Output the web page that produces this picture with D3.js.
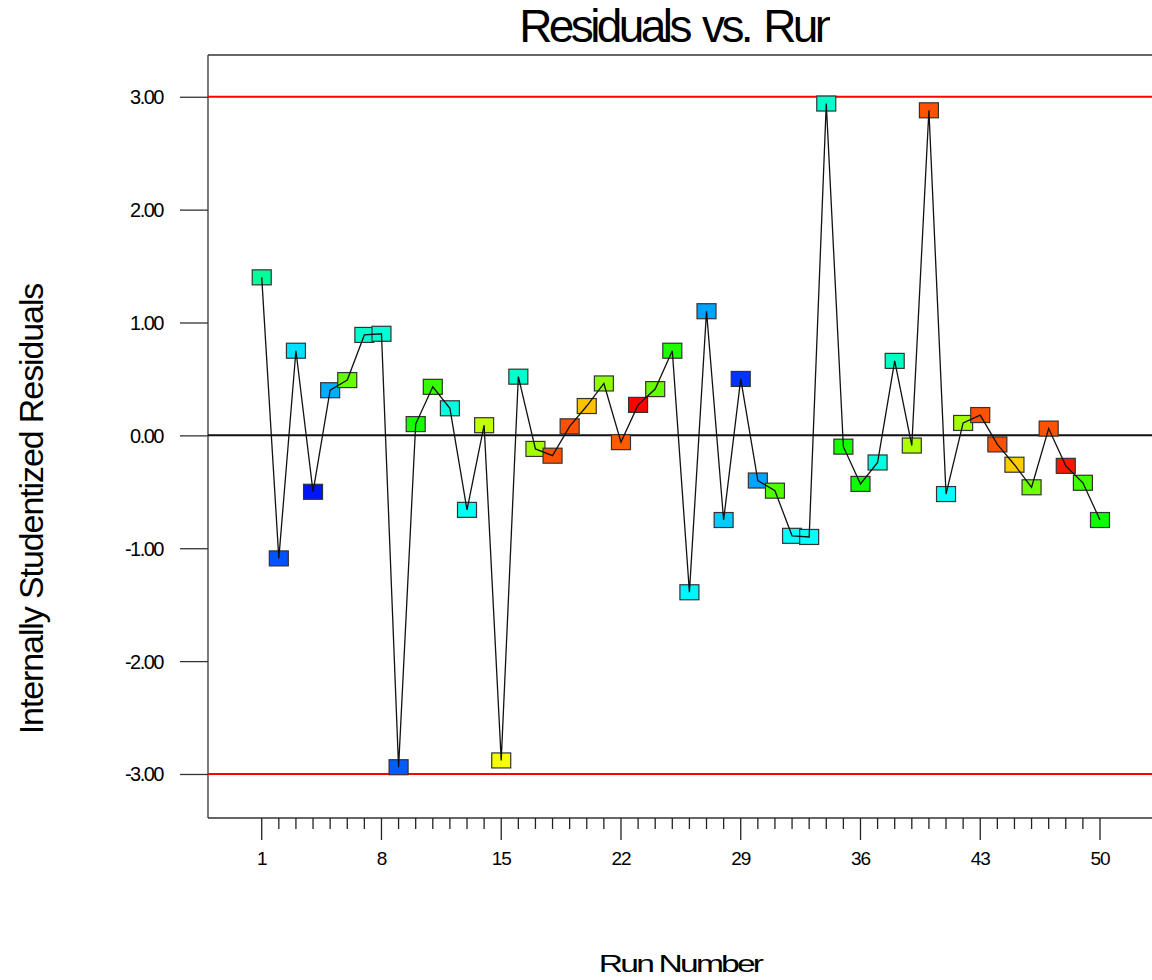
<!DOCTYPE html>
<html>
<head>
<meta charset="utf-8">
<script src="https://cdn.jsdelivr.net/npm/d3@7"></script>
<style>
	body { margin: 0; background: #fff; }
	text { font-family: 'Liberation Sans', Arial, sans-serif; fill: #000; }
</style>
</head>
<body>
<div id="chart"></div>
<script>
// run numbers and internally studentized residuals
const runs = d3.range(1, 51);
const residuals = [
	1.40, -1.09, 0.75, -0.50, 0.40, 0.49, 0.89, 0.90, -2.94, 0.10,
	0.43, 0.24, -0.66, 0.09, -2.88, 0.52, -0.12, -0.18, 0.08, 0.26,
	0.46, -0.06, 0.27, 0.41, 0.75, -1.39, 1.10, -0.75, 0.50, -0.40,
	-0.49, -0.89, -0.90, 2.94, -0.10, -0.43, -0.24, 0.66, -0.09, 2.88,
	-0.52, 0.11, 0.18, -0.08, -0.26, -0.46, 0.06, -0.27, -0.42, -0.75
];
// third variable used for the point colour (0 = low, 1 = high)
const colorLevel = [
	0.35, 0.08, 0.22, 0.02, 0.17, 0.60, 0.30, 0.29, 0.09, 0.52,
	0.55, 0.28, 0.26, 0.69, 0.74, 0.30, 0.66, 0.92, 0.92, 0.81,
	0.64, 0.91, 1.00, 0.60, 0.53, 0.24, 0.16, 0.20, 0.05, 0.16,
	0.58, 0.25, 0.25, 0.30, 0.52, 0.51, 0.28, 0.31, 0.67, 0.92,
	0.25, 0.66, 0.92, 0.92, 0.80, 0.61, 0.92, 0.98, 0.56, 0.51
];
const yTicks = [-3, -2, -1, 0, 1, 2, 3];
const xLabelTicks = [1, 8, 15, 22, 29, 36, 43, 50];
const limits = [-3, 3];

const width = 1152, height = 980;
const plot = { left: 208, top: 55, right: 1152, bottom: 818 };

const svg = d3.select('#chart').append('svg')
	.attr('width', width)
	.attr('height', height);

const x = d3.scaleLinear().domain([-2.14, 53.04]).range([plot.left, plot.right]);
const y = d3.scaleLinear().domain([-3.39, 3.37]).range([plot.bottom, plot.top]);
const color = d3.scaleLinear()
	.domain([0, 0.25, 0.5, 0.75, 1])
	.range(['#0000ff', '#00ffff', '#00ff00', '#ffff00', '#ff0000']);

// title (the original image clips the last letter)
svg.append('clipPath').attr('id', 'titleClip')
	.append('rect').attr('x', 0).attr('y', 0).attr('width', 830).attr('height', 54);
svg.append('text')
	.attr('clip-path', 'url(#titleClip)')
	.attr('x', (plot.left + plot.right) / 2 - 2)
	.attr('y', 42)
	.attr('text-anchor', 'middle')
	.style('font-size', '46px')
	.style('letter-spacing', '-3.6px')
	.style('word-spacing', '4px')
	.text('Residuals vs. Run');

// frame
svg.append('line')
	.attr('x1', plot.left).attr('x2', plot.right)
	.attr('y1', plot.top).attr('y2', plot.top)
	.style('stroke', '#333').style('stroke-width', 1.3);

// y axis
const yAxis = d3.axisLeft(y).tickValues(yTicks).tickSize(28).tickPadding(17)
	.tickFormat((d) => d3.format('.2f')(d).replace('\u2212', '-'));
const gy = svg.append('g').attr('transform', 'translate(' + plot.left + ',0)').call(yAxis);
gy.select('.domain').remove();
gy.selectAll('.tick line').style('stroke', '#333').style('stroke-width', 1.3);
gy.selectAll('.tick text')
	.style('font-size', '20px')
	.style('letter-spacing', '-1.5px')
	.attr('dy', '0.35em');
svg.append('line')
	.attr('x1', plot.left).attr('x2', plot.left)
	.attr('y1', plot.top).attr('y2', plot.bottom)
	.style('stroke', '#333').style('stroke-width', 1.3);

// x axis: minor ticks every run, labelled ticks every 7 runs
const gx = svg.append('g').attr('transform', 'translate(0,' + plot.bottom + ')');
gx.append('line')
	.attr('x1', plot.left).attr('x2', plot.right)
	.style('stroke', '#333').style('stroke-width', 1.3);
gx.selectAll('.minor').data(runs).enter().append('line')
	.attr('class', 'minor')
	.attr('x1', (d) => x(d)).attr('x2', (d) => x(d))
	.attr('y1', 0)
	.attr('y2', (d) => (xLabelTicks.includes(d) ? 22 : 11))
	.style('stroke', '#222').style('stroke-width', 1.3);
gx.selectAll('.lbl').data(xLabelTicks).enter().append('text')
	.attr('class', 'lbl')
	.attr('x', (d) => x(d))
	.attr('y', 47)
	.attr('text-anchor', 'middle')
	.style('font-size', '19px')
	.style('letter-spacing', '-1px')
	.text((d) => d);

// reference lines
svg.selectAll('.limit').data(limits).enter().append('line')
	.attr('class', 'limit')
	.attr('x1', plot.left).attr('x2', plot.right)
	.attr('y1', (d) => y(d)).attr('y2', (d) => y(d))
	.style('stroke', '#ff0000').style('stroke-width', 2);
svg.append('line')
	.attr('x1', plot.left).attr('x2', plot.right)
	.attr('y1', y(0)).attr('y2', y(0))
	.style('stroke', '#111').style('stroke-width', 2);

const points = runs.map((r, i) => ({ run: r, res: residuals[i], c: colorLevel[i] }));

// square markers
svg.selectAll('.pt').data(points).enter().append('rect')
	.attr('class', 'pt')
	.attr('x', (d) => x(d.run) - 9.5)
	.attr('y', (d) => y(d.res) - 7.5)
	.attr('width', 19)
	.attr('height', 15)
	.style('fill', (d) => color(d.c))
	.style('stroke', '#333')
	.style('stroke-width', 1.2);

// connecting line is drawn over the markers in the original
svg.append('path')
	.datum(points)
	.attr('d', d3.line().x((d) => x(d.run)).y((d) => y(d.res)))
	.style('fill', 'none')
	.style('stroke', '#111')
	.style('stroke-width', 1.3);

// axis titles
svg.append('text')
	.attr('transform', 'translate(680,972) scale(1.4,1)')
	.attr('text-anchor', 'middle')
	.style('font-size', '24px')
	.style('letter-spacing', '-2px')
	.text('Run Number');

svg.append('text')
	.attr('transform', 'translate(43,509) rotate(-90)')
	.attr('text-anchor', 'middle')
	.style('font-size', '34px')
	.style('letter-spacing', '-1.1px')
	.text('Internally Studentized Residuals');
</script>
</body>
</html>
